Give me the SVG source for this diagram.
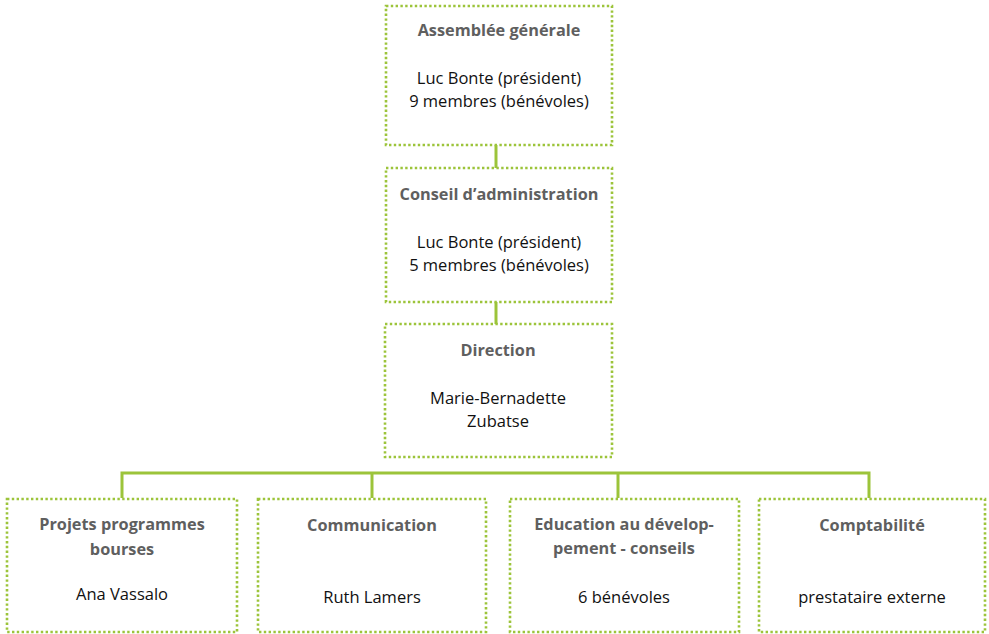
<svg xmlns="http://www.w3.org/2000/svg" width="989" height="634" viewBox="0 0 989 634">
<style>
.box{fill:#ffffff;stroke:#9cc43a;stroke-width:2.6;stroke-dasharray:2.4 2.4}
.conn{fill:none;stroke:#9cc43a;stroke-width:3}
.t{font-family:"Open Sans","Noto Sans",sans-serif;font-weight:bold;font-size:16.3px;fill:#5f5f5f;text-anchor:middle}
.b{font-family:"Open Sans","Noto Sans",sans-serif;font-size:16.5px;fill:#111111;text-anchor:middle}
</style>
<rect width="989" height="634" fill="#ffffff"/>
<g id="connectors">
<line class="conn" x1="496" y1="145" x2="496" y2="168"/>
<line class="conn" x1="496" y1="302" x2="496" y2="324"/>
<polyline class="conn" points="122,498 122,473 869,473 869,498"/>
<line class="conn" x1="372" y1="473" x2="372" y2="498"/>
<line class="conn" x1="618" y1="473" x2="618" y2="498"/>
</g>
<g id="assemblee">
<rect class="box" x="386" y="6" width="226" height="139"/>
<text class="t" x="499" y="36">Assemblée générale</text>
<text class="b" x="499" y="84">Luc Bonte (président)</text>
<text class="b" x="499" y="107">9 membres (bénévoles)</text>
</g>
<g id="conseil">
<rect class="box" x="386" y="168" width="226" height="134"/>
<text class="t" x="499" y="200">Conseil d’administration</text>
<text class="b" x="499" y="248">Luc Bonte (président)</text>
<text class="b" x="499" y="271">5 membres (bénévoles)</text>
</g>
<g id="direction">
<rect class="box" x="385" y="324" width="227" height="133"/>
<text class="t" x="498" y="356">Direction</text>
<text class="b" x="498" y="404">Marie-Bernadette</text>
<text class="b" x="498" y="427">Zubatse</text>
</g>
<g id="projets">
<rect class="box" x="7" y="499" width="230" height="133"/>
<text class="t" x="122" y="530">Projets programmes</text>
<text class="t" x="122" y="555">bourses</text>
<text class="b" x="122" y="600">Ana Vassalo</text>
</g>
<g id="communication">
<rect class="box" x="258" y="499" width="228" height="133"/>
<text class="t" x="372" y="531">Communication</text>
<text class="b" x="372" y="603">Ruth Lamers</text>
</g>
<g id="education">
<rect class="box" x="510" y="499" width="229" height="133"/>
<text class="t" x="624" y="530">Education au dévelop-</text>
<text class="t" x="624" y="554">pement - conseils</text>
<text class="b" x="624" y="603">6 bénévoles</text>
</g>
<g id="comptabilite">
<rect class="box" x="759" y="499" width="226" height="133"/>
<text class="t" x="872" y="531">Comptabilité</text>
<text class="b" x="872" y="603">prestataire externe</text>
</g>
</svg>
